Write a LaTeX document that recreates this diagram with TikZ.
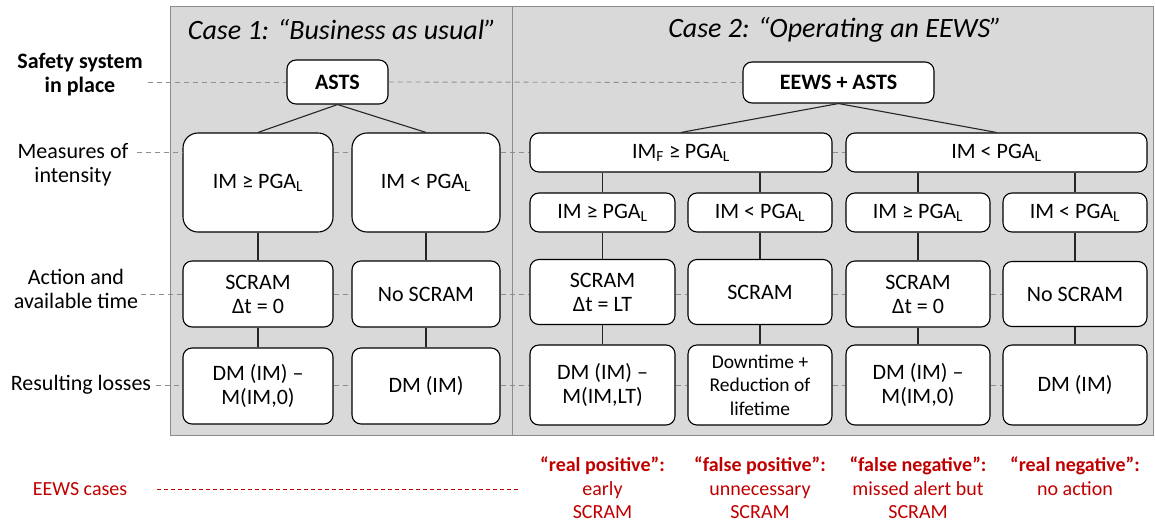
\documentclass[tikz,border=0pt]{standalone}
\usepackage{fontspec}
\setmainfont{Carlito}
\definecolor{panelgray}{HTML}{D9D9D9}
\definecolor{panelline}{HTML}{8C8C8C}
\definecolor{dashgray}{HTML}{8F8F8F}
\definecolor{redtext}{HTML}{C00000}
\begin{document}
\begin{tikzpicture}[x=1pt,y=-1pt,
  box/.style={draw=black, line width=1.1pt, rounded corners=9pt, fill=white, align=center, inner sep=1pt, font=\fontsize{22}{24}\selectfont},
  conn/.style={line width=1.1pt, draw=black!85},
  guide/.style={draw=dashgray, line width=0.9pt, dash pattern=on 5pt off 4pt},
  lab/.style={align=center, font=\fontsize{22}{24}\selectfont, inner sep=0pt},
  ttl/.style={font=\fontsize{28}{30}\selectfont\itshape, inner sep=0pt},
  casetxt/.style={align=center, text=redtext, font=\fontsize{20}{23.5}\selectfont, inner sep=0pt},
  reddash/.style={draw=redtext, line width=0.9pt, dash pattern=on 4pt off 3pt}
]
\useasboundingbox (0,0) rectangle (1155,525);
% panels
\filldraw[fill=panelgray, draw=panelline, line width=1pt] (170,6) rectangle (512,435);
\filldraw[fill=panelgray, draw=panelline, line width=1pt] (512,6) rectangle (1153,435);
\node[ttl] (t1) at (342,30) {Case 1: “Business as usual”};
\node[ttl] (t2) at (835,30) {Case 2: “Operating an EEWS”};

% left labels
\node[lab, font=\fontsize{22}{24}\selectfont\bfseries] (lab1) at (80,75) {Safety system\\in place};
\node[lab] (lab2) at (73,165) {Measures of\\intensity};
\node[lab] (lab3) at (76,289) {Action and\\available time};
\node[lab] (lab4) at (81,385) {Resulting losses};

% case 1
\node[box, font=\fontsize{22}{24}\selectfont\bfseries, minimum width=101pt, minimum height=44pt] (asts) at (337.5,82) {ASTS};
\node[box, rounded corners=15pt, minimum width=150pt, minimum height=99pt] (c1m1) at (258,182.5) {IM ≥ PGA\textsubscript{L}};
\node[box, rounded corners=15pt, minimum width=148pt, minimum height=99pt] (c1m2) at (426,182.5) {IM < PGA\textsubscript{L}};
\node[box, minimum width=150pt, minimum height=66pt] (c1a1) at (258,294) {SCRAM\\Δt = 0};
\node[box, minimum width=148pt, minimum height=66pt] (c1a2) at (426,294) {No SCRAM};
\node[box, minimum width=150pt, minimum height=76pt] (c1l1) at (258,386) {DM (IM) –\\M(IM,0)};
\node[box, minimum width=148pt, minimum height=76pt] (c1l2) at (426,386) {DM (IM)};

% case 2
\node[box, font=\fontsize{22}{24}\selectfont\bfseries, minimum width=191pt, minimum height=41pt] (eews) at (838.5,82.5) {EEWS + ASTS};
\node[box, minimum width=302pt, minimum height=39pt] (c2m1) at (681,152.5) {IM\textsubscript{F} ≥ PGA\textsubscript{L}};
\node[box, minimum width=301pt, minimum height=39pt] (c2m2) at (996.5,152.5) {IM < PGA\textsubscript{L}};
\node[box, minimum width=145pt, minimum height=39pt] (s1) at (602.5,212.5) {IM ≥ PGA\textsubscript{L}};
\node[box, minimum width=144pt, minimum height=39pt] (s2) at (760,212.5) {IM < PGA\textsubscript{L}};
\node[box, minimum width=144pt, minimum height=39pt] (s3) at (918,212.5) {IM ≥ PGA\textsubscript{L}};
\node[box, minimum width=144pt, minimum height=39pt] (s4) at (1075,212.5) {IM < PGA\textsubscript{L}};
\node[box, minimum width=145pt, minimum height=65pt] (a1) at (602.5,292) {SCRAM\\Δt = LT};
\node[box, minimum width=144pt, minimum height=65pt] (a2) at (760,292) {SCRAM};
\node[box, minimum width=144pt, minimum height=66pt] (a3) at (918,294) {SCRAM\\Δt = 0};
\node[box, minimum width=144pt, minimum height=65pt] (a4) at (1075,294) {No SCRAM};
\node[box, minimum width=145pt, minimum height=80pt] (r1) at (602.5,385) {DM (IM) –\\M(IM,LT)};
\node[box, font=\fontsize{19.5}{23.5}\selectfont, minimum width=144pt, minimum height=80pt] (r2) at (760,385) {Downtime +\\Reduction of\\lifetime};
\node[box, minimum width=144pt, minimum height=80pt] (r3) at (918,385) {DM (IM) –\\M(IM,0)};
\node[box, minimum width=144pt, minimum height=80pt] (r4) at (1075,385) {DM (IM)};

% connectors
\draw[conn] (asts.south) -- (c1m1.north);
\draw[conn] (asts.south) -- (c1m2.north);
\draw[conn] (c1m1.south) -- (c1a1.north);
\draw[conn] (c1m2.south) -- (c1a2.north);
\draw[conn] (c1a1.south) -- (c1l1.north);
\draw[conn] (c1a2.south) -- (c1l2.north);
\draw[conn] (eews.south) -- (c2m1.north);
\draw[conn] (eews.south) -- (c2m2.north);
\draw[conn] (s1.north |- c2m1.south) -- (s1.north);
\draw[conn] (s2.north |- c2m1.south) -- (s2.north);
\draw[conn] (s3.north |- c2m2.south) -- (s3.north);
\draw[conn] (s4.north |- c2m2.south) -- (s4.north);
\draw[conn] (s1.south) -- (a1.north);
\draw[conn] (s2.south) -- (a2.north);
\draw[conn] (s3.south) -- (a3.north);
\draw[conn] (s4.south) -- (a4.north);
\draw[conn] (a1.south) -- (r1.north);
\draw[conn] (a2.south) -- (r2.north);
\draw[conn] (a3.south) -- (r3.north);
\draw[conn] (a4.south) -- (r4.north);

% guide lines
\draw[guide] ([xshift=5pt]lab1.east |- asts.west) -- (asts.west);
\draw[guide] (asts.east) -- (eews.west);
\draw[guide] ([xshift=8pt]lab2.east |- c2m1.west) -- (c2m1.west -| c1m1.west);
\draw[guide] (c2m1.west -| c1m1.east) -- (c2m1.west -| c1m2.west);
\draw[guide] (c2m1.west -| c1m2.east) -- (c2m1.west);
\draw[guide] (c2m1.east) -- (c2m2.west);
\draw[guide] ([xshift=3pt]lab3.east |- c1a1.west) -- (c1a1.west);
\draw[guide] (c1a1.east) -- (c1a2.west);
\draw[guide] (c1a2.east) -- (c1a1.west -| a1.west);
\draw[guide] (c1a1.west -| a1.east) -- (c1a1.west -| a2.west);
\draw[guide] (c1a1.west -| a2.east) -- (c1a1.west -| a3.west);
\draw[guide] (a3.east) -- (a4.west);
\draw[guide] ([xshift=5pt]lab4.east) -- (lab4.east -| c1l1.west);
\draw[guide] (lab4.east -| c1l1.east) -- (lab4.east -| c1l2.west);
\draw[guide] (lab4.east -| c1l2.east) -- (lab4.east -| r1.west);
\draw[guide] (lab4.east -| r1.east) -- (lab4.east -| r2.west);
\draw[guide] (lab4.east -| r2.east) -- (lab4.east -| r3.west);
\draw[guide] (lab4.east -| r3.east) -- (lab4.east -| r4.west);

% EEWS cases
\node[casetxt] (elab) at (80,489) {EEWS cases};
\coordinate (rdend) at (520,489);
\draw[reddash] ([xshift=30pt]elab.east) -- (rdend);
\node[casetxt, anchor=north] (e1) at (602.5,457) {\textbf{“real positive”:}\\early\\SCRAM};
\node[casetxt, anchor=north] (e2) at (760,457) {\textbf{“false positive”:}\\unnecessary\\SCRAM};
\node[casetxt, anchor=north] (e3) at (918,457) {\textbf{“false negative”:}\\missed alert but\\SCRAM};
\node[casetxt, anchor=north] (e4) at (1075,457) {\textbf{“real negative”:}\\no action};
\end{tikzpicture}
\end{document}
